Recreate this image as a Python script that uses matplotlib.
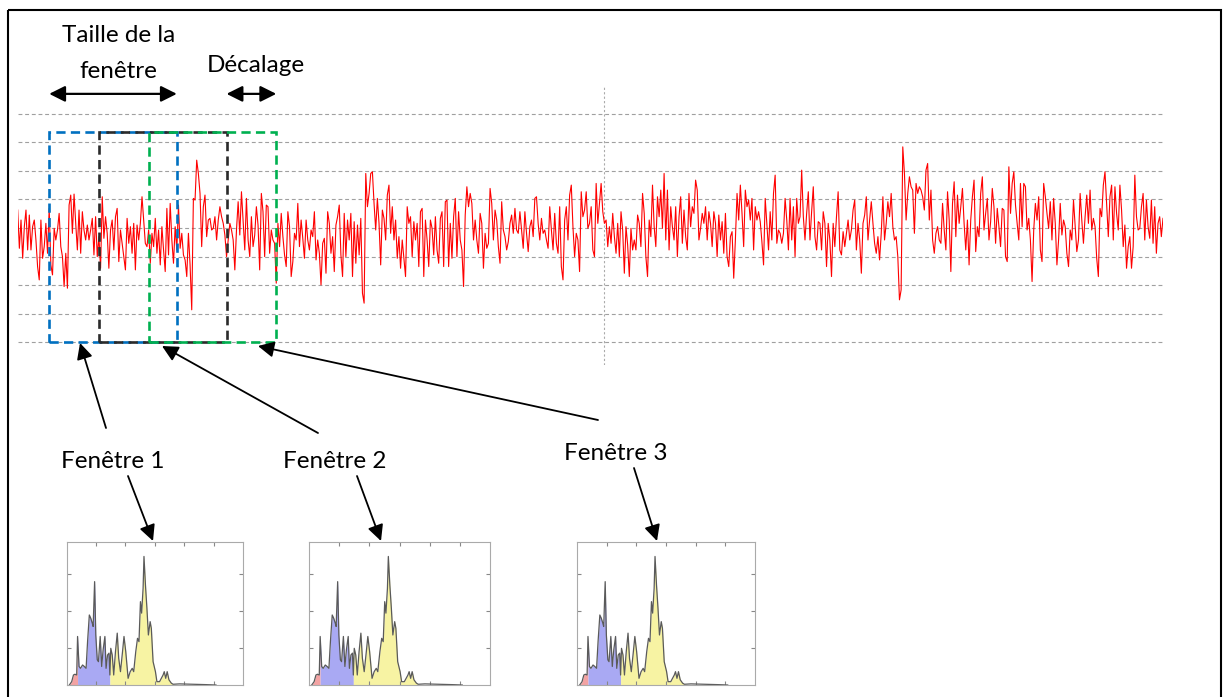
import numpy as np
import matplotlib
matplotlib.use("Agg")
import matplotlib.pyplot as plt
from matplotlib.patches import Rectangle

W, H = 1223, 697
plt.rcParams['font.family'] = ['Lato', 'DejaVu Sans']

# signal, raw counts (86 counts per grid step), left to right
sig_a = [54, -61, 24, -91, 4, 54, -66, 39, -66, 4, 24, -36, -116, -156, 24, -91, -56, 14, -76, 59,
         -111, -141, -1, -36, -6, 44, -56, -86, -176, -76, -181, 69, 99, -16, 102, 14, -66, 54, -76, 49,
         -6, -36, 9, -36, -6, 29, -81, 34, -86, -26, -121, 94, -31, 34, -16, -121, -6, 24, -66, 34,
         59, -101, -6, -46, -86, -126, 29, -46, 4, -76, 14, -126, 9, -36, 14, 94, 24, -46, -56, -6,
         -106, -16, -56, 29, -76, -6, -111, 4, -66, -131, 59, -81, 74, -36, -106, 4, -66, 69, -61, -16,
         -81, -96, -146, -16, -111, -246, 89, 84, 204, 164, 104, -56, 64, 99, -26, 24, 29, -6]
sig_b = [-1, 34, -36, 24, 64, 34, 14, -21, -86, -36, 14, -6, -36, -126, -6, 79, -21, 109, 19, -66,
         89, -36, -86, 34, -56, -21, 64, 9, -126, 104, 49, -86, 69, 64, -76, -6, -36, -46, -166, 14,
         -56, 44, -26, -81, -116, 49, 4, -146, -101, -16, -36, 74, -56, 24, -31, -91, 24, -36, -66, -6,
         -26, 49, -96, -36, -76, -171, -46, -31, -136, 49, 14, -76, -26, -131, 9, 34, 69, -81, -146, 44,
         -86, 24, -36, 44, -146, 19, -106, 9, -81, 29, -196, -226, 164, 64, 104, 164, 169, 74, -6, 89,
         14, -111, 54, 29, -36, 99, 129, -16, 64, -36, 24, -91, -26, -121, -36, -91, -146, 64, 14]
sig_c = [34, -86, 19, -36, 14, -116, 49, 59, -146, 24, -36, -116, 24, -1, -81, 34, -66, -106, 29, 49,
         -116, 79, 84, -116, 14, -91, 34, 89, -86, 49, -36, -66, -176, 39, 124, 64, 104, 74, -36, 24,
         -36, -76, 44, 14, -121, -16, -61, -46, 119, 74, -36, 54, 24, -56, -106, 79, -6, -26, -66, -41,
         14, 39, -16, 59, -6, -16, 49, -6, -61, 49, -16, -71, 4, 24, -26, 89, 94, 14, -36, 29,
         -16, -6, -36, -61, 64, -6, -66, 44, -46, -76, 64, -116, -156, 24, 64, -36, 99, 129, 4, -86,
         -16, -36, -131, 109, 34, 54, 109, -1, 14, 64, -66, -86, 134, 14, 74, 134, 49, 14]
sig_d = [24, -56, 4, -46, 44, -26, -76, 14, -86, 49, -6, -136, 4, -51, -146, -1, -66, -36, -66, 39,
         14, -56, 104, 44, -86, -146, 24, -26, 129, 4, -56, 94, 34, 114, -1, 164, -36, 114, -66, 64,
         4, -36, 64, -86, 34, 94, -46, 54, -26, -66, 104, 4, 64, 44, 144, 114, -36, -1, 44, 14,
         64, -36, 49, 14, -56, 49, 14, -86, 39, -36, 19, -76, 44, -86, -116, -26, -11, -151, -36, 104,
         24, 129, 44, -56, 114, 64, 84, 24, 89, -66, 64, 24, 49, 19, -41, -111, 89, 14, -66, 49,
         -36, 104, 159, -46, -6, -16, -46, -16, 89, 24, -66, 89, -36, 64, -86, 89, 14]
sig_e = [34, 174, 34, -36, 44, 109, -36, 49, 124, -26, -66, 19, 14, -66, 49, 14, -116, 14, -36, -146,
         14, -56, 34, 109, -66, -81, -11, -56, -16, 24, -36, -6, 54, 84, -66, 14, -36, -136, 14, 39,
         94, -36, 24, 79, 14, -46, -76, -26, -96, -16, 94, -36, 14, 79, 34, 104, 4, -36, -26, -86,
         -216, -186, 244, 164, 24, 104, 154, 124, 114, -16, 134, 104, 124, 114, 94, 54, 174, 194, 24, 114,
         -36, -76, -16, 4, -36, -46, 74, -6, -66, 109, 24, -131, 74, 139, -26, 99, 14, 64, 119, 14,
         -66, 24, -111, 24, 94, 144, -71, 4, -26, 104, 154, -6, 44, 89, -36, 19, 119, 64]
sig_f = [-46, 59, 4, -56, 59, 54, -86, -101, 184, 44, 134, 169, 69, 14, -36, 134, 4, 134, 124, -6,
         29, -36, -161, -6, 74, 24, 94, -66, -101, 134, 94, 44, -1, 79, -36, 89, 14, -111, -36, 74,
         -21, 24, 4, -76, -116, -6, -36, 84, 4, -71, -36, 104, 24, -46, 34, 99, 14, 114, -6, 29,
         4, -91, -146, 59, 34, 129, 169, 74, -26, 94, 129, -36, 124, 44, -6, 129, 54, -56, 9, -121,
         -56, -26, -121, -56, 159, 34, -6, -1, 64, 104, -36, 84, 4, -31, 84, -46, 64, -76, 14, 34,
         -26, 29]
counts_per_grid = 86.0

# sliding windows (in samples)
win_start, win_len, hop = 19, 77, 30
win_colors = ['#0070C0', '#2b2b2b', '#00B050']
marker_sample = 354

# spectrum of one window
spec_x = [0.09, 0.17, 0.23, 0.28, 0.34, 0.37, 0.42, 0.47, 0.54, 0.60, 0.66, 0.71, 0.77, 0.82, 0.87,
          0.90, 0.95, 0.99, 1.04, 1.08, 1.14, 1.19, 1.24, 1.30, 1.34, 1.39, 1.44, 1.47, 1.50, 1.55,
          1.60, 1.66, 1.72, 1.77, 1.83, 1.90, 1.95, 2.01, 2.09, 2.16, 2.23, 2.28, 2.35, 2.41, 2.46,
          2.51, 2.55, 2.60, 2.63, 2.68, 2.73, 2.78, 2.84, 2.88, 2.94, 3.02, 3.07, 3.16, 3.28, 3.32,
          3.37, 3.42, 3.48, 3.56, 3.62, 3.84, 4.29, 4.75, 5.08]
spec_y = [0.00, 0.09, 0.27, 0.29, 0.27, 1.31, 0.50, 0.45, 0.54, 0.50, 0.45, 1.17, 1.89, 1.80, 1.67,
          1.58, 2.79, 1.35, 0.68, 0.63, 1.31, 0.50, 0.95, 1.31, 0.45, 0.81, 0.86, 0.27, 0.99, 0.81,
          0.27, 0.90, 1.40, 0.72, 0.36, 0.90, 1.31, 0.90, 0.18, 0.36, 0.45, 0.36, 0.90, 1.26, 1.17,
          2.25, 1.94, 2.61, 3.47, 2.70, 2.07, 1.35, 1.71, 1.53, 0.63, 0.36, 0.09, 0.09, 0.27, 0.36,
          0.18, 0.36, 0.14, 0.05, 0.02, 0.03, 0.02, 0.01, 0.00]
band_edges = [0.37, 1.47, 3.62]
band_colors = ['#f3a3a3', '#a9a9f3', '#f7f3a3']
labels = ['Fenêtre 1', 'Fenêtre 2', 'Fenêtre 3']

fig = plt.figure(figsize=(W / 100, H / 100), dpi=100)


def px_axes(x0, y0, x1, y1):
    return fig.add_axes([x0 / W, 1 - y1 / H, (x1 - x0) / W, (y1 - y0) / H])


# --- signal panel
signal = np.array(sig_a + sig_b + sig_c + sig_d + sig_e + sig_f, dtype=float) / counts_per_grid
t = np.arange(len(signal))
ax = px_axes(17.7, 85, 1163, 365)
ax.plot(t, signal, color='red', lw=0.8, zorder=2)
ax.set_xlim(0, len(signal) - 1)
ax.set_ylim(-4.79, 5.0)
for g in range(-4, 5):
    ax.axhline(g, color='#a0a0a0', lw=0.8, ls=(0, (3.5, 2.5)), zorder=1)
ax.axvline(marker_sample, color='#aaaaaa', lw=0.8, ls=(0, (2, 2)), zorder=1)
ax.axis('off')

for k, c in enumerate(win_colors):
    ax.add_patch(Rectangle((win_start + k * hop, -4), win_len, 7.36, fill=False, ec=c,
                           lw=1.9, ls=(0, (3.5, 2)), zorder=5 + k))

dbl = dict(arrowstyle='<|-|>', color='black', lw=1.6, mutation_scale=24, shrinkA=0, shrinkB=0)
ax.annotate('', xy=(win_start + win_len, 4.69), xytext=(win_start, 4.69), arrowprops=dbl)
ax.annotate('', xy=(win_start + 2 * hop + win_len, 4.69), xytext=(win_start + hop + win_len, 4.69),
            arrowprops=dbl)

# --- overlay in pixel coordinates
ov = fig.add_axes([0, 0, 1, 1])
ov.set_xlim(0, W)
ov.set_ylim(H, 0)
ov.axis('off')
ov.patch.set_alpha(0)
ov.add_patch(Rectangle((8, 10), 1213, 700, fill=False, lw=1.5, ec='black', clip_on=False))

fs = 17.5
ov.text(119, 36, 'Taille de la', ha='center', va='center', fontsize=fs)
ov.text(118, 72, 'fenêtre', ha='center', va='center', fontsize=fs)
ov.text(256, 65, 'Décalage', ha='center', va='center', fontsize=fs)

label_pos = [(113, 462), (335, 462), (616, 454)]
up_tails = [(106, 428), (318, 433), (598, 420)]
up_tips = [(80, 343), (162, 346), (258, 346)]
down_tails = [(128, 476), (357, 476), (634, 468)]
down_tips = [(153, 541), (381, 541), (657, 541)]
ptr = dict(arrowstyle='-|>', color='black', lw=1.3, mutation_scale=24, shrinkA=0, shrinkB=0)
for lab, p, a0, a1, b0, b1 in zip(labels, label_pos, up_tails, up_tips, down_tails, down_tips):
    ov.text(p[0], p[1], lab, ha='center', va='center', fontsize=fs)
    ov.annotate('', xy=a1, xytext=a0, arrowprops=ptr)
    ov.annotate('', xy=b1, xytext=b0, arrowprops=ptr)

# --- spectra insets
inset_boxes = [(66.7, 542, 243, 685), (309, 542, 490, 685), (577, 542, 755, 685)]
xs = np.array(spec_x)
ys = np.array(spec_y)
for box in inset_boxes:
    a = px_axes(*box)
    lo = 0
    for edge, col in zip(band_edges, band_colors):
        a.fill_between(xs, ys, where=(xs >= lo) & (xs <= edge), color=col, lw=0)
        lo = edge
    a.plot(xs, ys, color='#5a5a5a', lw=0.9)
    a.set_xlim(0, 6)
    a.set_ylim(0, 3.86)
    a.set_xticks(range(1, 6))
    a.set_yticks([1, 2, 3])
    a.tick_params(direction='in', length=3, color='#888888', top=True, right=True,
                  labelbottom=False, labelleft=False)
    for s in a.spines.values():
        s.set_color('#aaaaaa')
        s.set_linewidth(0.8)

fig.savefig('out.png', dpi=100)
